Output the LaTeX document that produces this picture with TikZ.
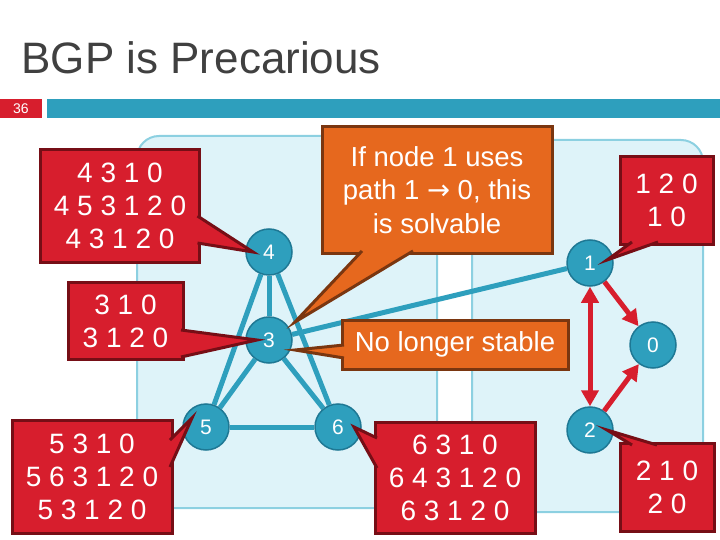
\documentclass[tikz,border=0pt]{standalone}
\usepackage{fontspec}
\setmainfont{Liberation Sans}
\newfontfamily\arrowfont{DejaVu Sans}
\usetikzlibrary{arrows.meta,calc,backgrounds}

\definecolor{bgpteal}{RGB}{46,159,189}
\definecolor{bgptealdark}{RGB}{30,120,148}
\definecolor{bgpred}{RGB}{215,30,45}
\definecolor{bgpredline}{RGB}{118,14,22}
\definecolor{bgporange}{RGB}{230,104,30}
\definecolor{bgporangeline}{RGB}{122,54,16}
\definecolor{bgpsky}{RGB}{222,243,249}
\definecolor{bgpskyline}{RGB}{140,208,225}
\definecolor{bgpgrey}{RGB}{64,64,64}

\tikzset{
  asnode/.style={circle,fill=bgpteal,draw=bgptealdark,line width=1.5pt,minimum size=46pt,inner sep=0pt,text=white,font=\fontsize{21}{24}\selectfont},
  link/.style={draw=bgpteal,line width=5pt},
  route/.style={draw=bgpred,line width=5pt,-{Triangle[length=16pt,width=17pt]}},
  pathbox/.style={rectangle,fill=bgpred,draw=bgpredline,line width=3pt,outer sep=0pt,text=white,align=center,inner sep=0pt,font=\fontsize{28}{33}\selectfont},
  redtip/.style={fill=bgpred,draw=bgpredline,line width=3pt},
  notebox/.style={rectangle,fill=bgporange,draw=bgporangeline,line width=3pt,outer sep=0pt,text=white,align=center,inner sep=0pt,font=\fontsize{27.5}{33.5}\selectfont},
  orangetip/.style={fill=bgporange,draw=bgporangeline,line width=3pt},
  region/.style={fill=bgpsky,draw=bgpskyline,line width=2pt,rounded corners=22pt}
}

\begin{document}
\begin{tikzpicture}[x=1pt,y=-1pt] %BGP
		\useasboundingbox (0,0) rectangle (720,540);
		\node[anchor=base west,text=bgpgrey,font=\fontsize{44}{50}\selectfont] (title) at (18,74) {BGP is Precarious};
		\fill[bgpred] (0,99) rectangle (42,118);
		\fill[bgpteal] (47,99) rectangle (720,118);
		\node[text=white,font=\fontsize{14}{16}\selectfont] (slidenum) at (21,108.5) {36};
		% routers
		\node[asnode] (n4) at (269,252) {4};
		\node[asnode] (n3) at (269,340) {3};
		\node[asnode] (n5) at (206,427) {5};
		\node[asnode] (n6) at (338,427) {6};
		\node[asnode] (n1) at (590,263) {1};
		\node[asnode] (n0) at (653,345) {0};
		\node[asnode] (n2) at (590,430) {2};
		\begin{scope}[on background layer]
		\draw[region] (137,136) rectangle (437,508);
		\draw[region] (472,140) rectangle (703,512);
		\draw[link] (n4) -- (n3);
		\draw[link] (n4) -- (n5);
		\draw[link] (n4) -- (n6);
		\draw[link] (n3) -- (n5);
		\draw[link] (n3) -- (n6);
		\draw[link] (n5) -- (n6);
		\draw[link] (n3) -- (n1);
		\end{scope}
		\draw[route] (n1) -- (n0);
		\draw[route] (n2) -- (n0);
		\draw[route,{Triangle[length=16pt,width=17pt]}-{Triangle[length=16pt,width=17pt]}] (n1) -- (n2);
		% path lists
		\node[pathbox,minimum width=159pt,minimum height=113pt] (p4) at (120,206) {4 3 1 0\\4 5 3 1 2 0\\4 3 1 2 0};
		\filldraw[redtip] ($(p4.east)+(-2,10)$) -- ([xshift=-16pt]n4.center) -- ($(p4.east)+(-2,37)$);
		\node[pathbox,minimum width=115pt,minimum height=77pt] (p3) at (125.5,321) {3 1 0\\3 1 2 0};
		\filldraw[redtip] ($(p3.east)+(-2,9)$) -- ([xshift=-12pt]n3.center) -- ($(p3.east)+(-2,36)$);
		\node[pathbox,minimum width=160pt,minimum height=113pt] (p5) at (92,476.5) {5 3 1 0\\5 6 3 1 2 0\\5 3 1 2 0};
		\filldraw[redtip] ($(p5.east)+(-2,-36.5)$) -- ([xshift=-14pt,yshift=9pt]n5.center) -- ($(p5.east)+(-2,-9.5)$);
		\node[pathbox,minimum width=160pt,minimum height=111pt] (p6) at (455,477.5) {6 3 1 0\\6 4 3 1 2 0\\6 3 1 2 0};
		\filldraw[redtip] ($(p6.west)+(2,-39.5)$) -- ([xshift=16pt]n6.center) -- ($(p6.west)+(2,-9.5)$);
		\node[pathbox,minimum width=93pt,minimum height=87pt] (p1) at (666.5,200.5) {1 2 0\\1 0};
		\filldraw[redtip] ($(p1.south)+(-34.5,-2)$) -- ([xshift=17pt,yshift=3pt]n1.center) -- ($(p1.south)+(-8.5,-2)$);
		\node[pathbox,minimum width=94pt,minimum height=88pt] (p2) at (667,487) {2 1 0\\2 0};
		\filldraw[redtip] ($(p2.north)+(-35,2)$) -- ([xshift=17pt]n2.center) -- ($(p2.north)+(-10,2)$);
		% remarks
		\node[notebox,minimum width=230pt,minimum height=126pt] (solvable) at (437,190) {If node 1 uses\\path 1 {\arrowfont →} 0, this\\is solvable};
		\filldraw[orangetip] ($(solvable.south)+(-75,-2)$) -- ([xshift=26pt,yshift=18pt]n3.center) -- ($(solvable.south)+(-24,-2)$);
		\node[notebox,minimum width=226pt,minimum height=49pt] (unstable) at (455,344.5) {No longer stable};
		\filldraw[orangetip] ($(unstable.west)+(2,0.5)$) -- ([xshift=26pt,yshift=-10pt]n3.center) -- ($(unstable.west)+(2,13.5)$);
\end{tikzpicture}
\end{document}
